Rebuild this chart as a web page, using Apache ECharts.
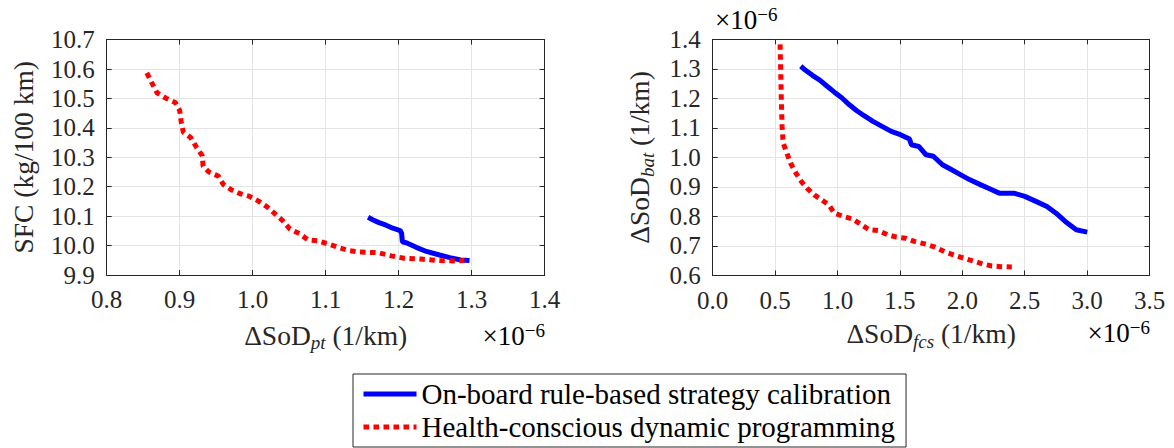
<!DOCTYPE html>
<html><head><meta charset="utf-8">
<script src="https://cdn.jsdelivr.net/npm/echarts@6/dist/echarts.min.js"></script>
<style>html,body{margin:0;padding:0;background:#fff}#c{width:1174px;height:448px}</style>
</head><body><div id="c"></div>
<script>
// ---------- data (x values in units of 1e-6 1/km) ----------
const seriesNames = ['On-board rule-based strategy calibration', 'Health-conscious dynamic programming'];

// Left panel: ΔSoD_pt (×1e-6) vs SFC (kg/100 km)
const leftRuleX = [1.158,1.165,1.173,1.182,1.192,1.202,1.204,1.205,1.212,1.224,1.238,1.256,1.270,1.285,1.297];
const leftRuleY = [10.096,10.087,10.078,10.070,10.059,10.051,10.042,10.013,10.008,9.994,9.980,9.968,9.959,9.951,9.949];
const leftDpX = [0.855,0.862,0.869,0.881,0.894,0.900,0.902,0.905,0.915,0.923,0.931,0.932,0.940,0.953,0.960,0.971,0.982,0.995,1.008,1.020,1.031,1.041,1.051,1.064,1.076,1.090,1.104,1.118,1.132,1.146,1.172,1.190,1.207,1.231,1.256,1.275,1.290];
const leftDpY = [10.587,10.552,10.519,10.501,10.486,10.459,10.421,10.385,10.367,10.334,10.305,10.270,10.250,10.236,10.207,10.189,10.177,10.168,10.151,10.131,10.107,10.085,10.056,10.041,10.019,10.016,10.005,9.993,9.983,9.978,9.976,9.965,9.957,9.954,9.949,9.948,9.949];

// Right panel: ΔSoD_fcs (×1e-6) vs ΔSoD_bat (×1e-6)
const rightRuleX = [0.706,0.741,0.799,0.858,0.917,0.975,1.034,1.093,1.152,1.210,1.284,1.357,1.431,1.504,1.577,1.592,1.651,1.709,1.768,1.841,1.915,1.988,2.061,2.149,2.223,2.296,2.413,2.501,2.590,2.678,2.751,2.825,2.913,3.001];
const rightRuleY = [1.309,1.296,1.278,1.262,1.241,1.221,1.202,1.179,1.159,1.142,1.122,1.105,1.088,1.077,1.062,1.043,1.037,1.009,1.004,0.975,0.958,0.941,0.924,0.907,0.893,0.879,0.879,0.868,0.851,0.834,0.811,0.783,0.755,0.747];
const rightDpX = [0.540,0.544,0.550,0.556,0.564,0.594,0.623,0.667,0.711,0.755,0.814,0.873,0.931,0.975,1.049,1.122,1.195,1.254,1.328,1.401,1.474,1.548,1.621,1.709,1.783,1.856,1.929,2.017,2.091,2.164,2.238,2.311,2.397];
const rightDpY = [1.383,1.309,1.196,1.105,1.049,1.015,0.981,0.947,0.918,0.896,0.873,0.856,0.839,0.811,0.800,0.791,0.771,0.755,0.752,0.738,0.730,0.726,0.715,0.706,0.696,0.681,0.670,0.658,0.649,0.639,0.632,0.630,0.629];

// axis ranges / tick steps
const leftXRange = [0.8, 1.4, 0.1];
const leftYRange = [9.9, 10.7, 0.1];
const rightXRange = [0.0, 3.5, 0.5];
const rightYRange = [0.6, 1.4, 0.1];

// ---------- styling ----------
const INK = '#262626';
const GRIDC = '#e4e4e4';
const FONT = "'Liberation Serif'";
const pair = (xs, ys) => xs.map((x, i) => [x, ys[i]]);

function valAxis(gridIndex, range, pos, showLabel, extra) {
  return Object.assign({
    type: 'value', gridIndex, position: pos,
    min: range[0], max: range[1], interval: range[2],
    axisLine: { show: true, onZero: false, lineStyle: { color: INK, width: 1 } },
    axisTick: { show: true, inside: true, length: 5, lineStyle: { color: INK, width: 1 } },
    splitLine: { show: showLabel, lineStyle: { color: GRIDC, width: 1 } },
    axisLabel: {
      show: showLabel, color: INK, fontFamily: FONT, fontSize: 25, margin: 12,
      formatter: v => v.toFixed(1)
    }
  }, extra || {});
}

const titleRich = {
  a: { fontFamily: FONT, fontSize: 27.5, color: INK, lineHeight: 34 },
  s: { fontFamily: FONT, fontSize: 19, fontStyle: 'italic', color: INK, lineHeight: 19, verticalAlign: 'bottom' }
};
const expRich = {
  a: { fontFamily: FONT, fontSize: 27, color: INK, lineHeight: 30 },
  b: { fontFamily: FONT, fontSize: 19, color: INK, lineHeight: 19, verticalAlign: 'top' }
};

const option = {
  animation: false,
  backgroundColor: '#fff',
  grid: [
    { left: 106.7, top: 39.6, width: 438, height: 235.4, containLabel: false, outerBoundsMode: 'none' },
    { left: 712.7, top: 39.3, width: 436.8, height: 236.2, containLabel: false, outerBoundsMode: 'none' }
  ],
  xAxis: [
    valAxis(0, leftXRange, 'bottom', true, {
      name: '{a|ΔSoD}{s|pt}{a| (1/km)}', nameLocation: 'middle', nameGap: 43,
      nameTextStyle: { rich: titleRich }
    }),
    valAxis(0, leftXRange, 'top', false),
    valAxis(1, rightXRange, 'bottom', true, {
      name: '{a|ΔSoD}{s|fcs}{a| (1/km)}', nameLocation: 'middle', nameGap: 41,
      nameTextStyle: { rich: titleRich }
    }),
    valAxis(1, rightXRange, 'top', false)
  ],
  yAxis: [
    valAxis(0, leftYRange, 'left', true, {
      name: 'SFC (kg/100 km)', nameLocation: 'middle', nameGap: 66,
      nameTextStyle: { fontFamily: FONT, fontSize: 27.5, color: INK, lineHeight: 34 }
    }),
    valAxis(0, leftYRange, 'right', false),
    valAxis(1, rightYRange, 'left', true, {
      name: '{a|ΔSoD}{s|bat}{a| (1/km)}', nameLocation: 'middle', nameGap: 56,
      nameTextStyle: { rich: titleRich }
    }),
    valAxis(1, rightYRange, 'right', false)
  ],
  legend: {
    orient: 'vertical', left: 353, top: 374, height: 300,
    data: seriesNames,
    itemWidth: 53, itemHeight: 2, itemGap: 3,
    padding: [5, 11, 5, 8],
    borderColor: INK, borderWidth: 1, backgroundColor: '#fff',
    itemStyle: { opacity: 0 },
    lineStyle: { width: 5 },
    textStyle: { fontFamily: FONT, fontSize: 29, color: '#000', lineHeight: 30 },
    selectedMode: false
  },
  graphic: [
    { type: 'text', x: 545, y: 321, style: { text: '{a|×10}{b|−6}', textAlign: 'right', textVerticalAlign: 'top', rich: expRich } },
    { type: 'text', x: 1150, y: 318, style: { text: '{a|×10}{b|−6}', textAlign: 'right', textVerticalAlign: 'top', rich: expRich } },
    { type: 'text', x: 715, y: 5, style: { text: '{a|×10}{b|−6}', textAlign: 'left', textVerticalAlign: 'top', rich: expRich } }
  ],
  series: [
    { name: seriesNames[0], type: 'line', xAxisIndex: 0, yAxisIndex: 0, data: pair(leftRuleX, leftRuleY),
      symbol: 'none', lineStyle: { color: '#0000ff', width: 5 }, itemStyle: { color: '#0000ff' } },
    { name: seriesNames[1], type: 'line', xAxisIndex: 0, yAxisIndex: 0, data: pair(leftDpX, leftDpY),
      symbol: 'none', lineStyle: { color: '#ff0000', width: 5, type: [5.5, 4.5], cap: 'butt' }, itemStyle: { color: '#ff0000' } },
    { name: seriesNames[0], type: 'line', xAxisIndex: 2, yAxisIndex: 2, data: pair(rightRuleX, rightRuleY),
      symbol: 'none', lineStyle: { color: '#0000ff', width: 5 }, itemStyle: { color: '#0000ff' } },
    { name: seriesNames[1], type: 'line', xAxisIndex: 2, yAxisIndex: 2, data: pair(rightDpX, rightDpY),
      symbol: 'none', lineStyle: { color: '#ff0000', width: 5, type: [5.5, 4.5], cap: 'butt' }, itemStyle: { color: '#ff0000' } }
  ]
};
const chart = echarts.init(document.getElementById('c'), null, { renderer: 'svg' });
chart.setOption(option);
</script></body></html>
